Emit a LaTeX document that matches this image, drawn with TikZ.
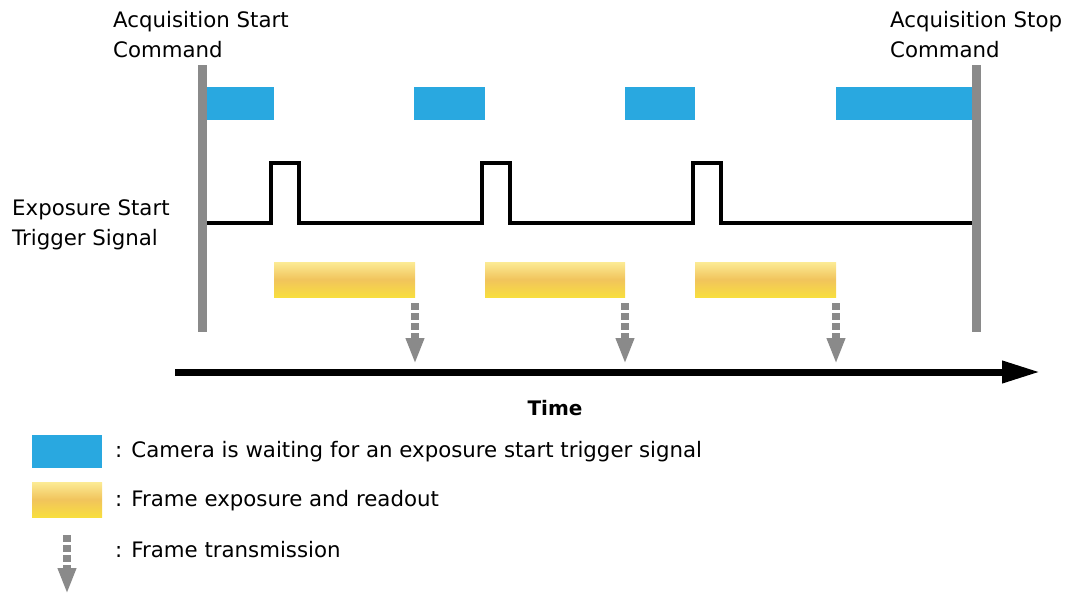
\documentclass[tikz,border=0pt]{standalone}
\usepackage{fontspec}
\setmainfont{DejaVu Sans}
\usepackage{tikz}
\usetikzlibrary{positioning, calc, arrows.meta}
\definecolor{waitblue}{HTML}{29A8E0}
\definecolor{bargray}{HTML}{8A8A8A}
\definecolor{expTop}{HTML}{FCEB95}
\definecolor{expMid}{HTML}{F1C45C}
\definecolor{expBot}{HTML}{F8DE3E}

\begin{document}
\begin{tikzpicture}[x=1pt,y=-1pt,
	lbl/.style={align=left, inner sep=0pt, font=\fontsize{21.3}{30}\selectfont},
	cmdbar/.style={rectangle, fill=bargray, inner sep=0pt,
		minimum width=9pt, minimum height=267pt},
	waitbox/.style={rectangle, fill=waitblue, inner sep=0pt, minimum height=33pt},
	expbox/.style={rectangle, inner sep=0pt, minimum height=35pt,
		top color=expTop, bottom color=expBot, middle color=expMid},
	xfer/.style={draw=bargray, line width=8pt, dash pattern=on 7pt off 3pt,
		-{Triangle[width=17pt,length=26pt]}},
	signal/.style={line width=3.2pt, line join=miter}
	]
	\useasboundingbox (0,0) rectangle (1072,594);

	% command bars
	\node[cmdbar] (startbar) at (202,198.5) {};
	\node[cmdbar] (stopbar) at (976,198.5) {};
	\node[lbl, anchor=north west] (startlbl) at (113,11) {Acquisition Start\\Command};
	\node[lbl, anchor=north west] (stoplbl) at (890,11) {Acquisition Stop\\Command};

	% waiting for trigger
	\node[waitbox, minimum width=67pt] (w1) at (240.5,103.5) {};
	\node[waitbox, minimum width=71pt] (w2) at (449.5,103.5) {};
	\node[waitbox, minimum width=70pt] (w3) at (660,103.5) {};
	\node[waitbox, minimum width=136pt] (w4) at (904,103.5) {};

	% trigger signal
	\node[lbl, anchor=north west] (triglbl) at (12,199) {Exposure Start\\Trigger Signal};
	\coordinate (sigL) at (207,223);
	\coordinate (sigR) at (972,223);
	\draw[signal] (sigL) -- (271,223) -- (271,163) -- (299,163) -- (299,223)
		-- (482,223) -- (482,163) -- (510,163) -- (510,223)
		-- (693,223) -- (693,163) -- (721,163) -- (721,223) -- (sigR);

	% exposure and readout
	\node[expbox, minimum width=141pt] (e1) at (344.5,279.5) {};
	\node[expbox, minimum width=140pt] (e2) at (555,279.5) {};
	\node[expbox, minimum width=141pt] (e3) at (765.5,279.5) {};

	% transmission
	\foreach \e/\x in {e1/415,e2/625,e3/836}
		\draw[xfer] (\x,303) -- (\x,364);

	% time axis
	\coordinate (ax0) at (175,372);
	\coordinate (ax1) at (1040,372);
	\draw[line width=7pt, -{Triangle[width=21pt,length=38pt]}] (ax0) -- (ax1);
	\node[font=\fontsize{20}{24}\selectfont\bfseries] (timelbl) at (555,408) {Time};

	% legend
	\node[waitbox, minimum width=70pt] (lw) at (67,451) {};
	\node[expbox, minimum width=70pt] (le) at (67,499.5) {};
	\coordinate (lxs) at (67,535);
	\coordinate (lxe) at (67,594);
	\draw[xfer] (lxs) -- (lxe);
	\node[lbl, anchor=west] (lwtxt) at (115,452) {: Camera is waiting for an exposure start trigger signal};
	\node[lbl, anchor=west] (letxt) at (115,501) {: Frame exposure and readout};
	\node[lbl, anchor=west] (lxtxt) at (115,550) {: Frame transmission};
\end{tikzpicture}
\end{document}
